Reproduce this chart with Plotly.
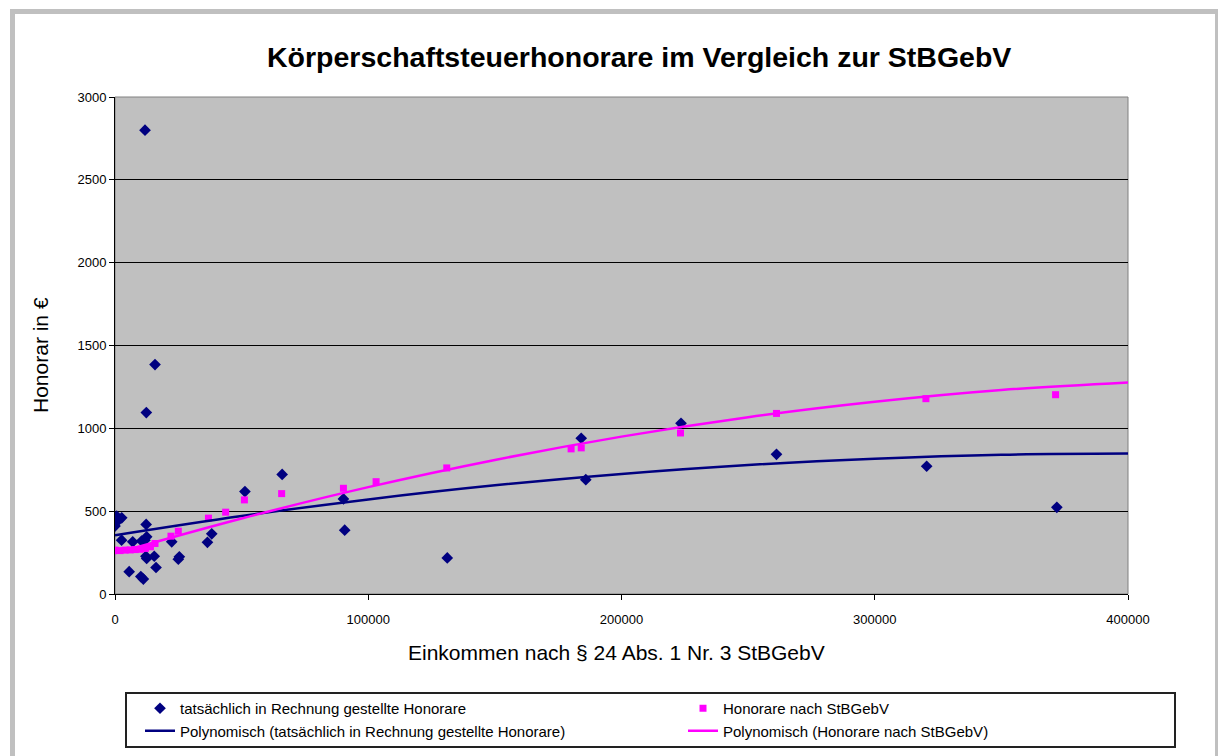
import plotly.graph_objects as go

# Actual invoiced fees (tatsächlich in Rechnung gestellte Honorare)
actual_x = [0, 270, 670, 1700, 2650, 2600, 5600, 7000, 10200, 11200, 10500, 11800,
            12500, 12200, 12500, 12300, 15500, 16200, 12370, 15800, 11850, 22400,
            25400, 25000, 36500, 38200, 51300, 66000, 90200, 90700, 131200, 184100,
            185900, 223500, 261200, 320500, 371900]
actual_y = [410, 440, 470, 450, 460, 325, 135, 315, 105, 90, 320, 325,
            345, 228, 215, 420, 228, 160, 1095, 1385, 2800, 315,
            225, 210, 312, 363, 618, 722, 574, 385, 218, 940,
            690, 1030, 843, 771, 523]

# Fees according to StBGebV
stbgebv_x = [0, 2000, 4000, 6000, 8000, 10000, 12000, 14000, 15800, 22100, 25000,
             36900, 43700, 51100, 65800, 90200, 103100, 131000, 180100, 184100,
             223300, 261200, 320200, 371400]
stbgebv_y = [265, 262, 265, 266, 268, 270, 275, 285, 305, 349, 379,
             458, 494, 568, 606, 638, 678, 761, 876, 882,
             972, 1090, 1179, 1203]

# Polynomial trend lines
trend_x = [0, 50000, 100000, 150000, 200000, 250000, 300000, 350000, 400000]
trend_actual_y = [355, 471, 571, 656, 725, 779, 817, 841, 848]
trend_stbgebv_y = [245, 456, 645, 809, 950, 1067, 1160, 1231, 1277]

title_text = "Körperschaftsteuerhonorare im Vergleich zur StBGebV"
x_title = "Einkommen nach § 24 Abs. 1 Nr. 3 StBGebV"
y_title = "Honorar in €"
name_actual = "tatsächlich in Rechnung gestellte Honorare"
name_stb = "Honorare nach StBGebV"
name_poly_actual = "Polynomisch (tatsächlich in Rechnung gestellte Honorare)"
name_poly_stb = "Polynomisch (Honorare nach StBGebV)"

x_ticks = [0, 100000, 200000, 300000, 400000]
y_ticks = [0, 500, 1000, 1500, 2000, 2500, 3000]

NAVY = "#000080"
MAGENTA = "#ff00ff"
FONT = "Liberation Sans, Arial, sans-serif"

fig = go.Figure()
fig.add_trace(go.Scatter(x=actual_x, y=actual_y, mode="markers", name=name_actual,
                         marker=dict(symbol="diamond", size=9, color=NAVY)))
fig.add_trace(go.Scatter(x=stbgebv_x, y=stbgebv_y, mode="markers", name=name_stb,
                         marker=dict(symbol="square", size=7, color=MAGENTA)))
fig.add_trace(go.Scatter(x=trend_x, y=trend_actual_y, mode="lines", name=name_poly_actual,
                         line=dict(color=NAVY, width=2.5, shape="spline")))
fig.add_trace(go.Scatter(x=trend_x, y=trend_stbgebv_y, mode="lines", name=name_poly_stb,
                         line=dict(color=MAGENTA, width=2.5, shape="spline")))

L, R, T, B = 115, 1128, 97, 594
W, H = 1218, 756
pw, ph = R - L, B - T

def px(xp):
    return (xp - L) / pw

def py(yp):
    return (B - yp) / ph

ENTRY_W = 498
LEG_LEFT = 140
LEG_RIGHT = LEG_LEFT + 2 * ENTRY_W + 90

fig.update_layout(
    width=W, height=H,
    margin=dict(l=L, r=W - R, t=T, b=H - B, autoexpand=False),
    paper_bgcolor="white",
    plot_bgcolor="#c0c0c0",
    font=dict(family=FONT, size=13, color="black"),
    showlegend=True,
    legend=dict(orientation="h", xref="paper", yref="paper",
                x=px(LEG_RIGHT), y=py(692), xanchor="right", yanchor="top",
                borderwidth=0, bgcolor="rgba(0,0,0,0)",
                font=dict(family=FONT, size=15, color="black"),
                entrywidth=ENTRY_W, entrywidthmode="pixels", traceorder="normal"),
    xaxis=dict(range=[0, 400000], tickvals=x_ticks, ticktext=[str(v) for v in x_ticks],
               showgrid=False, zeroline=False, showline=True, linecolor="black", linewidth=1,
               ticks="outside", ticklen=5, tickcolor="black", tickfont=dict(size=13),
               ticklabelstandoff=8),
    yaxis=dict(range=[0, 3000], tickvals=y_ticks, ticktext=[str(v) for v in y_ticks],
               showgrid=True, gridcolor="black", gridwidth=1, zeroline=False,
               showline=True, linecolor="black", linewidth=1,
               ticks="outside", ticklen=5, tickcolor="black", tickfont=dict(size=13)),
    annotations=[
        dict(text="<b>" + title_text + "</b>", x=px(639), y=py(57), xref="paper", yref="paper",
             showarrow=False, font=dict(family=FONT, size=28.5, color="black"),
             xanchor="center", yanchor="middle"),
        dict(text=x_title, x=px(616), y=py(652), xref="paper", yref="paper",
             showarrow=False, font=dict(family=FONT, size=21, color="black"),
             xanchor="center", yanchor="middle"),
        dict(text=y_title, x=px(40), y=py(355), xref="paper", yref="paper", textangle=-90,
             showarrow=False, font=dict(family=FONT, size=21, color="black"),
             xanchor="center", yanchor="middle"),
    ],
    shapes=[
        dict(type="rect", xref="paper", yref="paper", x0=0, x1=1, y0=0, y1=1,
             line=dict(color="#808080", width=1), layer="below"),
        dict(type="rect", xref="paper", yref="paper", x0=px(126), x1=px(1175),
             y0=py(693), y1=py(747), line=dict(color="#222222", width=2)),
        dict(type="line", xref="paper", yref="paper", x0=px(12.5), x1=px(12.5),
             y0=py(9), y1=py(760), line=dict(color="#c0c0c0", width=5)),
        dict(type="line", xref="paper", yref="paper", x0=px(10), x1=px(1218),
             y0=py(11.5), y1=py(11.5), line=dict(color="#c0c0c0", width=5)),
        dict(type="line", xref="paper", yref="paper", x0=px(1216.5), x1=px(1216.5),
             y0=py(9), y1=py(760), line=dict(color="#c0c0c0", width=3)),
    ],
)

fig.write_html("out.html", config={"displayModeBar": False},
               post_script="document.body.style.margin='0px';")
